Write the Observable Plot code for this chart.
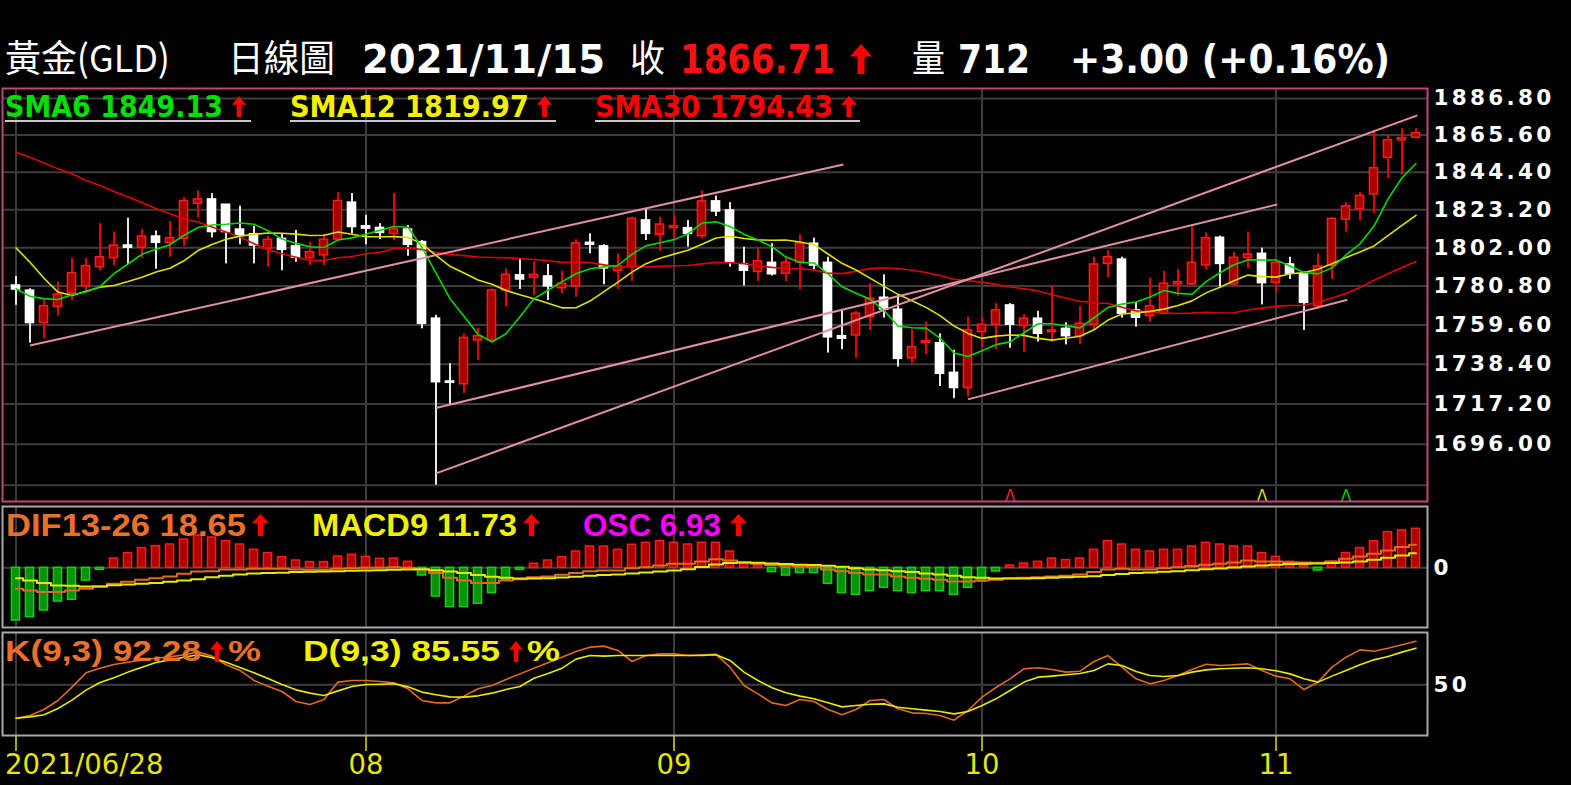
<!DOCTYPE html>
<html><head><meta charset="utf-8">
<script src="https://cdn.jsdelivr.net/npm/d3@7"></script>
<script src="https://cdn.jsdelivr.net/npm/@observablehq/plot@0.6"></script>
<style>
html,body{margin:0;padding:0;background:#000;}
#wrap{position:relative;width:1571px;height:785px;overflow:hidden;background:#000;}
.p{position:absolute;left:0;}
.t{position:absolute;white-space:pre;line-height:1;transform-origin:0 0;}
.arrow{position:absolute;background:#ff0000;clip-path:polygon(50% 0,100% 42%,66% 42%,66% 100%,34% 100%,34% 42%,0 42%);}
.ul{position:absolute;height:2px;background:#c8c8c8;}
g[aria-label="y-axis tick label"]{letter-spacing:3.3px;}
</style></head><body><div id="wrap"></div>
<script>
// ---------- data ----------
const open  = [1781.1,1778.3,1760.6,1769.3,1776.6,1780.6,1791.2,1796.2,1803.2,1801.9,1808.2,1804.7,1806.9,1826.6,1829.0,1826.0,1812.1,1809.5,1801.4,1806.9,1802.7,1796.2,1797.7,1806.5,1827.2,1813.9,1813.0,1809.7,1812.1,1805.1,1763.0,1729.2,1727.7,1751.2,1751.2,1778.4,1786.7,1785.4,1786.1,1779.6,1780.6,1804.7,1802.7,1789.2,1791.2,1817.2,1809.2,1812.9,1812.9,1808.4,1827.9,1822.8,1792.7,1788.6,1793.6,1787.6,1793.9,1804.2,1793.6,1753.5,1753.9,1763.8,1774.4,1767.9,1741.6,1749.9,1749.7,1733.8,1725.7,1755.7,1759.7,1770.2,1759.0,1763.0,1755.7,1757.5,1753.5,1759.7,1793.0,1795.4,1767.5,1764.4,1765.7,1781.7,1781.7,1792.1,1807.5,1781.7,1796.2,1798.6,1782.6,1792.7,1787.3,1769.8,1792.1,1817.6,1823.4,1831.8,1852.6,1862.6,1864.1];
const high  = [1786.1,1779.3,1773.9,1783.0,1796.0,1796.0,1815.4,1810.7,1818.5,1812.2,1811.3,1816.6,1830.1,1833.8,1832.3,1826.2,1825.2,1813.9,1808.4,1809.7,1811.6,1805.1,1809.2,1832.9,1832.3,1820.0,1815.4,1832.3,1814.3,1806.0,1764.8,1738.7,1754.8,1757.8,1779.3,1790.2,1796.0,1794.1,1792.7,1789.0,1806.5,1809.7,1803.6,1798.6,1819.0,1823.4,1819.0,1820.0,1817.2,1833.7,1830.9,1827.2,1802.3,1801.4,1804.2,1796.7,1809.2,1807.3,1796.7,1767.5,1767.0,1782.1,1787.0,1775.6,1757.1,1761.1,1754.8,1745.9,1763.8,1763.8,1771.2,1771.2,1765.2,1767.0,1781.1,1760.8,1769.7,1796.7,1800.4,1796.7,1771.7,1785.2,1788.8,1789.9,1813.5,1810.2,1808.4,1799.5,1810.7,1801.7,1793.9,1796.7,1788.6,1798.6,1818.5,1827.2,1832.9,1868.3,1865.8,1869.3,1869.3];
const low   = [1770.2,1749.8,1752.1,1764.4,1772.9,1778.4,1789.2,1792.1,1792.7,1796.2,1790.1,1796.7,1802.7,1818.7,1807.5,1793.0,1803.6,1793.0,1791.2,1789.2,1793.9,1792.1,1792.1,1805.4,1809.7,1803.6,1806.5,1806.0,1797.2,1757.5,1674.8,1716.9,1722.7,1740.4,1750.3,1769.3,1778.9,1775.6,1772.9,1776.6,1774.7,1798.6,1781.5,1778.9,1783.3,1806.0,1800.0,1806.9,1802.3,1806.9,1819.4,1791.2,1780.8,1783.3,1786.3,1783.3,1778.8,1789.2,1744.4,1746.2,1741.6,1756.6,1763.3,1736.9,1738.7,1743.5,1726.5,1720.1,1720.9,1747.6,1746.3,1747.0,1744.6,1750.3,1750.3,1748.8,1748.9,1756.6,1785.2,1763.3,1758.4,1761.1,1765.2,1775.2,1781.1,1789.7,1780.2,1781.1,1790.5,1770.5,1777.5,1784.4,1756.6,1768.2,1784.4,1810.7,1817.2,1821.0,1841.0,1842.9,1864.1];
const close = [1778.9,1760.6,1769.8,1776.2,1787.9,1791.8,1796.7,1803.2,1802.0,1808.2,1804.7,1807.3,1828.1,1829.0,1810.7,1810.7,1808.8,1803.2,1806.4,1800.8,1796.4,1799.5,1806.4,1828.1,1813.5,1812.6,1810.2,1812.1,1803.6,1760.2,1728.8,1728.5,1752.6,1753.5,1778.4,1787.0,1784.4,1787.0,1780.6,1782.1,1804.5,1803.6,1790.5,1791.6,1818.1,1809.7,1814.9,1814.0,1809.7,1827.9,1822.2,1793.9,1789.2,1794.5,1787.3,1793.6,1804.5,1792.1,1752.9,1752.1,1765.7,1773.9,1768.0,1741.3,1747.6,1750.8,1733.3,1725.7,1756.6,1759.7,1767.5,1759.7,1763.0,1754.8,1756.6,1753.5,1760.3,1792.7,1796.7,1765.7,1763.5,1769.8,1782.1,1783.0,1793.6,1807.3,1793.0,1796.4,1798.2,1782.4,1793.6,1787.6,1771.6,1791.6,1818.1,1825.1,1831.0,1846.7,1862.6,1863.9,1866.71];
// moving-average values at the left edge (window reaches before the first candle)
const sma6Head  = [1779.3,1775.2,1773.9,1773.4,1776.0];
const sma12Head = [1801.9,1793.9,1785.1,1777.5,1775.6,1777.9,1780.2,1781.1,1783.3,1785.7,1788.5];
const sma30Head = [1855.8,1852.9,1849.7,1846.3,1843.5,1839.7,1836.9,1833.5,1830.4,1827.2,1823.8,1821.0,1818.1,1816.3,1813.5,1810.7,1807.9,1804.2,1800.8,1798.6,1796.7,1794.9,1794.9,1796.4,1797.1,1798.6,1799.5,1801.4,1801.9];
const dif  = [-17.0,-18.4,-19.7,-19.7,-18.4,-17.0,-15.1,-13.0,-11.4,-9.7,-8.4,-7.0,-4.9,-3.0,-2.7,-1.4,-1.4,-0.8,-0.8,-0.8,-1.4,-1.6,-1.6,-0.8,-0.3,0,0,0.5,0,-1.4,-4.3,-8.1,-10.3,-12.4,-12.4,-10.3,-9.2,-7.6,-7.0,-5.7,-4.3,-2.7,-2.2,-2.2,-0.3,0.5,1.9,3.2,3.2,5.1,7.0,5.9,4.3,3.2,2.2,1.6,1.1,0.5,-1.4,-2.7,-4.3,-5.4,-5.4,-7.0,-8.1,-8.9,-9.7,-11.1,-11.1,-10.3,-9.7,-8.4,-8.1,-7.6,-7.0,-6.5,-5.4,-3.5,-1.4,-0.8,-1.4,-1.4,-0.3,0.5,1.4,2.4,3.2,4.3,5.9,5.1,5.1,4.6,4.3,4.1,5.1,7.3,9.2,11.4,14.1,16.8,18.65];
const macd = [-8.4,-10.3,-12.4,-14.3,-14.6,-15.1,-15.1,-14.1,-13.5,-13.0,-12.4,-11.4,-10.3,-9.2,-7.6,-6.5,-5.4,-4.6,-4.3,-4.1,-3.5,-3.2,-3.0,-2.7,-2.4,-2.2,-1.9,-1.6,-1.4,-1.1,-1.9,-3.0,-4.3,-5.9,-7.3,-8.1,-8.6,-8.6,-8.4,-7.8,-7.3,-6.5,-5.9,-5.4,-4.6,-3.8,-3.0,-2.2,-1.1,0.7,2.7,3.8,4.3,4.1,3.5,3.0,2.4,2.2,1.6,0.8,-0.3,-1.4,-1.9,-2.7,-3.5,-4.6,-5.4,-6.5,-7.6,-8.1,-8.6,-8.6,-8.6,-8.4,-8.1,-7.6,-7.3,-6.8,-5.9,-5.1,-4.3,-3.8,-3.2,-2.7,-1.9,-1.1,-0.5,0.3,1.1,1.9,2.4,3.0,3.2,3.5,3.8,4.3,5.1,6.5,8.1,10.0,11.73];
const osc  = [-9.36,-8.76,-7.58,-5.99,-5.68,-2.26,-0.36,1.65,2.61,3.50,3.85,4.14,5.03,5.74,5.38,4.74,4.14,3.20,2.61,1.90,1.30,1.01,1.01,2.01,2.31,1.95,1.60,1.65,1.07,-1.37,-5.10,-6.98,-6.98,-6.39,-4.49,-2.26,-0.36,0.71,1.30,1.90,2.90,3.78,3.78,3.20,4.09,4.44,4.74,4.44,4.14,4.44,4.44,2.90,0.83,0.41,-0.76,-1.37,-0.94,-0.94,-2.84,-4.49,-4.80,-4.14,-3.55,-4.14,-4.49,-4.14,-4.14,-4.80,-3.55,-2.43,-0.66,0.41,0.76,1.07,1.65,1.37,1.65,3.20,4.74,4.14,3.20,2.90,3.20,3.20,3.78,4.44,4.14,3.78,3.78,2.61,1.95,1.07,0.41,-0.48,1.07,2.61,3.50,4.74,6.34,6.63,6.93];
const kVal = [17.6,20.2,26.0,34.8,47.7,61.6,66.1,69.7,71.9,74.2,75.8,77.1,79.1,81.7,77.8,69.4,63.9,54.2,48.7,43.5,33.8,30.9,35.7,52.6,54.2,54.2,53.2,51.9,46.1,34.8,32.5,32.5,39.0,46.1,49.3,55.1,60.6,66.1,71.3,76.8,82.3,86.5,87.5,83.3,72.6,78.4,80.0,80.0,78.4,79.1,79.5,67.1,49.3,41.2,32.5,29.9,35.7,33.8,26.0,20.9,26.0,34.8,35.7,26.7,22.8,22.2,20.2,15.7,25.1,38.0,47.4,55.8,65.5,66.5,64.9,62.3,63.2,72.6,78.4,67.1,55.8,50.9,54.2,59.0,64.9,70.0,68.7,69.4,70.3,63.9,58.4,55.8,45.4,52.6,67.1,76.8,83.9,82.6,85.5,88.8,92.28];
const dVal = [17.6,18.9,20.9,27.0,35.1,44.8,52.2,56.8,62.3,67.1,71.6,74.2,76.8,79.1,76.2,71.9,66.8,61.6,56.1,50.3,45.1,41.9,39.6,44.1,48.4,50.3,50.6,51.0,48.0,42.9,40.3,38.3,38.0,39.3,41.9,45.5,48.4,56.4,61.0,66.1,74.9,78.4,77.8,78.4,78.4,78.4,78.4,78.4,78.4,78.4,79.1,73.6,62.3,54.2,47.1,42.2,39.0,36.4,32.5,28.6,29.9,31.2,31.5,28.3,26.7,25.4,24.1,21.8,24.1,29.9,36.4,44.5,52.6,57.4,58.4,59.7,61.0,63.9,70.3,68.7,62.9,59.0,58.1,59.0,62.3,64.5,65.5,66.1,66.5,65.5,63.6,60.6,55.8,52.6,58.4,63.9,69.4,74.2,77.4,81.7,85.55];
const monthIdx    = [0, 25, 47, 69, 90];
const monthLabels = ["2021/06/28", "08", "09", "10", "11"];
const priceTicks  = [1886.8,1865.6,1844.4,1823.2,1802.0,1780.8,1759.6,1738.4,1717.2,1696.0];
const priceGrid   = [1886.8,1865.6,1844.4,1823.2,1802.0,1780.8,1759.6,1738.4,1717.2,1696.0,1674.8];
const trendStartIdx = [1, 30, 30, 68];
const trendStartPx  = [1748.5, 1715.1, 1680.9, 1719.7];
const trendEndIdx   = [59.1, 90.1, 100.1, 95.1];
const trendEndPx    = [1848.8, 1826.2, 1877.0, 1773.3];
const signalIdx    = [71, 89, 95];
const signalColors = ["#ff2020", "#e8e800", "#00d800"];

// ---------- derived tables ----------
const N = close.length;
const idx = d3.range(N);
const candles = idx.map(i => ({i, o: open[i], h: high[i], l: low[i], c: close[i], up: close[i] > open[i]}));
function sma(k, head) { return idx.map(i => i < k - 1 ? head[i] : d3.mean(close.slice(i - k + 1, i + 1))); }
const s6 = sma(6, sma6Head), s12 = sma(12, sma12Head), s30 = sma(30, sma30Head);
const smaRows = [];
idx.forEach(i => { smaRows.push({i, v: s30[i], s: "#e00000"}, {i, v: s12[i], s: "#e0e000"}, {i, v: s6[i], s: "#00d800"}); });
const trends = trendStartIdx.map((d, j) => ({i1: d, p1: trendStartPx[j], i2: trendEndIdx[j], p2: trendEndPx[j]}));
const signals = signalIdx.map((d, j) => ({i: d, c: signalColors[j]}));
const oscRows = idx.map(i => ({i, v: osc[i]}));
const lineRowsM = idx.flatMap(i => [{i, v: dif[i], s: "#e06a22"}, {i, v: macd[i], s: "#e8e800"}]);
const kdRows = idx.flatMap(i => [{i, v: kVal[i], s: "#e06a22"}, {i, v: dVal[i], s: "#e8e800"}]);
const monthRows = monthIdx.map((d, j) => ({i: d, label: monthLabels[j]}));

const xDomain = [-0.964, 100.821];
const W = 1571, ML = 2, MR = 144;
const grid = "#3c3c3c";
const wrap = document.getElementById("wrap");
function place(svg, top) { svg.classList.add("p"); svg.style.top = top + "px"; wrap.appendChild(svg); }
const axisText = {fill: "#ffffff", fontSize: 21.5, fontWeight: "bold", fontFamily: "DejaVu Sans", label: null};

// ---------- price panel ----------
place(Plot.plot({
  width: W, height: 430, marginLeft: ML, marginRight: MR, marginTop: 8, marginBottom: 9,
  style: {background: "transparent", overflow: "visible"},
  x: {domain: xDomain, axis: null},
  y: {type: "log", domain: [1666.4, 1892.6], axis: null},
  color: {type: "identity"},
  marks: [
    Plot.gridY(priceGrid, {stroke: grid, strokeOpacity: 1, strokeWidth: 2}),
    Plot.ruleX(monthIdx, {stroke: grid, strokeWidth: 2}),
    Plot.axisY(priceTicks, {anchor: "right", tickSize: 0, tickPadding: 6, tickFormat: d => d.toFixed(2), ...axisText}),
    Plot.ruleX(candles, {x: "i", y1: "l", y2: "h", stroke: d => d.up ? "#e80000" : "#e6e6e6", strokeWidth: 2}),
    Plot.rect(candles, {x1: d => d.i - 0.29, x2: d => d.i + 0.29, y1: "o", y2: "c",
      fill: d => d.up ? "#a80000" : "#ffffff", stroke: d => d.up ? "#ff1a1a" : "#ffffff", strokeWidth: 1.5}),
    Plot.line(smaRows, {x: "i", y: "v", z: "s", stroke: "s", strokeWidth: 1.6}),
    Plot.link(trends, {x1: "i1", y1: "p1", x2: "i2", y2: "p2", stroke: "#e0909e", strokeWidth: 2}),
    Plot.text(signals, {x: "i", frameAnchor: "bottom", text: () => "Λ", fill: "c", fontSize: 15, fontFamily: "DejaVu Sans", lineAnchor: "bottom", dy: -1}),
    Plot.frame({stroke: "#c4447f", strokeWidth: 2})
  ]
}), 80);

// ---------- MACD panel (histogram) ----------
place(Plot.plot({
  width: W, height: 133, marginLeft: ML, marginRight: MR, marginTop: 6, marginBottom: 6,
  style: {background: "transparent", overflow: "visible"},
  x: {domain: xDomain, axis: null},
  y: {domain: [-10.60, 10.89], axis: null},
  color: {type: "identity"},
  marks: [
    Plot.ruleY([0], {stroke: grid, strokeWidth: 2}),
    Plot.ruleX(monthIdx, {stroke: grid, strokeWidth: 2}),
    Plot.rect(oscRows, {x1: d => d.i - 0.29, x2: d => d.i + 0.29, y1: 0, y2: "v",
      fill: d => d.v >= 0 ? "#b00000" : "#0a900a", stroke: d => d.v >= 0 ? "#ff1a1a" : "#10d010", strokeWidth: 1.5}),
    Plot.axisY([0], {anchor: "right", tickSize: 0, tickPadding: 6, ...axisText}),
    Plot.frame({stroke: "#a8a8a8", strokeWidth: 2})
  ]
}), 500);
// ---------- MACD panel (DIF / MACD lines) ----------
place(Plot.plot({
  width: W, height: 133, marginLeft: ML, marginRight: MR, marginTop: 6, marginBottom: 6,
  style: {background: "transparent", overflow: "visible"},
  x: {domain: xDomain, axis: null},
  y: {domain: [-48.42, 49.72], axis: null},
  color: {type: "identity"},
  marks: [
    Plot.line(lineRowsM, {x: "i", y: "v", z: "s", stroke: "s", strokeWidth: 2, curve: "step"})
  ]
}), 500);

// ---------- KD panel ----------
place(Plot.plot({
  width: W, height: 159, marginLeft: ML, marginRight: MR, marginTop: 6, marginBottom: 50,
  style: {background: "transparent", overflow: "visible"},
  x: {domain: xDomain, axis: null},
  y: {domain: [0.82, 100.73], axis: null},
  color: {type: "identity"},
  marks: [
    Plot.ruleY([50], {stroke: grid, strokeWidth: 2}),
    Plot.ruleX(monthIdx, {stroke: grid, strokeWidth: 2}),
    Plot.line(kdRows, {x: "i", y: "v", z: "s", stroke: "s", strokeWidth: 1.6}),
    Plot.axisY([50], {anchor: "right", tickSize: 0, tickPadding: 6, ...axisText}),
    Plot.axisX(monthIdx, {anchor: "bottom", tickSize: 16, stroke: "#e0e000", strokeWidth: 1.5, tickFormat: () => "", label: null}),
    Plot.text(monthRows.slice(0, 1), {x: "i", frameAnchor: "bottom", text: "label", textAnchor: "start", dx: -10.9, dy: 38,
      fill: "#e6e600", fontSize: 27.5, fontFamily: "DejaVu Sans"}),
    Plot.text(monthRows.slice(1), {x: "i", frameAnchor: "bottom", text: "label", textAnchor: "middle", dy: 38,
      fill: "#e6e600", fontSize: 27.5, fontFamily: "DejaVu Sans"}),
    Plot.frame({stroke: "#a8a8a8", strokeWidth: 2})
  ]
}), 626);

// ---------- header & legends (HTML) ----------
function txt(s, x, capTop, capH, w, color, opts = {}) {
  const fam = opts.family || "Liberation Sans";
  const capRatio = opts.capRatio || (fam.startsWith("DejaVu") ? 0.729 : (fam.startsWith("Noto") ? 0.86 : 0.716));
  const baseRatio = fam.startsWith("DejaVu") ? 0.846 : (fam.startsWith("Noto") ? 0.936 : 0.8465);
  const size = capH / capRatio;
  const el = document.createElement("div");
  el.className = "t"; el.textContent = s;
  Object.assign(el.style, {left: x + "px", top: (capTop + capH - baseRatio * size) + "px", fontSize: size + "px",
    color, fontFamily: `"${fam}"`, fontWeight: opts.weight || "normal"});
  wrap.appendChild(el);
  if (w) { const r = el.getBoundingClientRect().width; el.style.transform = `scaleX(${w / r})`; }
}
function arrow(x, y, w, h) {
  const el = document.createElement("div"); el.className = "arrow";
  Object.assign(el.style, {left: x + "px", top: y + "px", width: w + "px", height: h + "px"});
  wrap.appendChild(el);
}
function ul(x1, x2, y) {
  const el = document.createElement("div"); el.className = "ul";
  Object.assign(el.style, {left: x1 + "px", top: y + "px", width: (x2 - x1) + "px"});
  wrap.appendChild(el);
}
// header
const cjk = {family: "Noto Sans CJK TC"};
txt("黃金(GLD)", 5, 41, 32, 165, "#ffffff", cjk);
txt("日線圖", 228, 41, 32, 107, "#ffffff", cjk);
txt("2021/11/15", 362, 45, 28, 243, "#ffffff", {family: "DejaVu Sans", weight: "bold"});
txt("收", 630, 41, 32, 35, "#ffffff", cjk);
txt("1866.71", 680, 45, 28, 155, "#ff1010", {family: "DejaVu Sans", weight: "bold"});
arrow(850, 44, 22, 30);
txt("量", 912, 41, 32, 33, "#ffffff", cjk);
txt("712", 958, 45, 28, 72, "#ffffff", {family: "DejaVu Sans", weight: "bold"});
txt("+3.00 (+0.16%)", 1070, 45, 28, 320, "#ffffff", {family: "DejaVu Sans", weight: "bold"});
// SMA legend
const dj = {family: "DejaVu Sans", weight: "bold"};
txt("SMA6 1849.13", 5, 95, 21.7, 218, "#00e000", dj);   arrow(232, 96, 14, 21); ul(5, 251, 120);
txt("SMA12 1819.97", 290, 95, 21.7, 239, "#f0f000", dj); arrow(537, 96, 15, 21); ul(290, 556, 120);
txt("SMA30 1794.43", 595, 95, 21.7, 238, "#ff0000", dj); arrow(841, 96, 16, 21); ul(595, 860, 120);
// MACD legend
const lb = {family: "Liberation Sans", weight: "bold"};
txt("DIF13-26 18.65", 5.5, 513, 23, 240, "#e8702a", lb); arrow(252, 514, 17, 22);
txt("MACD9 11.73", 312, 513, 23, 205, "#f0f000", lb);   arrow(523, 514, 17, 22);
txt("OSC 6.93", 583, 513, 23, 138, "#ff00ff", lb);      arrow(730, 514, 17, 22);
// KD legend
txt("K(9,3) 92.28", 4.6, 640, 21.7, 196, "#e8702a", lb); arrow(210, 641, 14, 21);
txt("%", 227.6, 640, 21.7, 33, "#e8702a", lb);
txt("D(9,3) 85.55", 302.5, 640, 21.7, 197, "#f0f000", lb); arrow(509, 641, 14, 21);
txt("%", 527, 640, 21.7, 33, "#f0f000", lb);
</script></body></html>
